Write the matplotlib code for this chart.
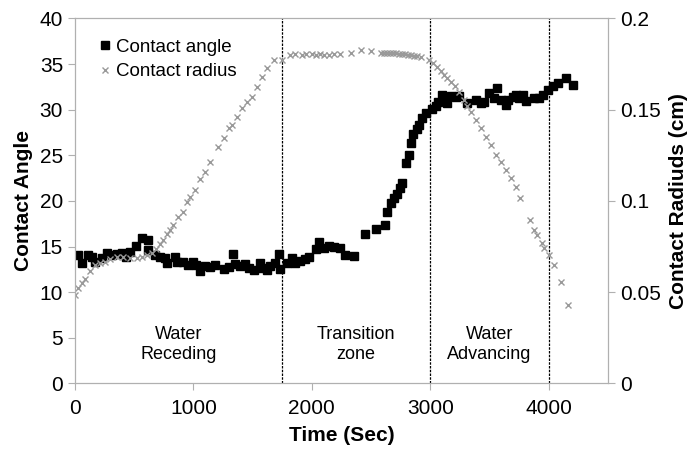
import matplotlib.pyplot as plt

plt.rcParams['font.family'] = ['Liberation Sans', 'DejaVu Sans']

# contact angle (deg) vs time (s)
angle_t = [28, 57, 113, 141, 169, 226, 273, 310, 353, 395, 431, 465, 514, 564, 620, 620,
           677, 719, 761, 776, 846, 860, 916, 959, 1001, 1024, 1058, 1100, 1142, 1184,
           1255, 1297, 1334, 1354, 1396, 1438, 1466, 1508, 1565, 1580, 1622, 1650, 1692,
           1720, 1734, 1791, 1833, 1861, 1904, 1946, 1974, 2039, 2058, 2101, 2143, 2191,
           2236, 2284, 2360, 2453, 2538, 2614, 2637, 2665, 2693, 2716, 2744, 2764, 2798,
           2820, 2834, 2857, 2885, 2908, 2933, 2961, 3018, 3046, 3065, 3102, 3145, 3179,
           3215, 3243, 3314, 3384, 3426, 3454, 3497, 3539, 3562, 3596, 3638, 3652, 3695,
           3723, 3750, 3779, 3807, 3877, 3920, 3948, 3991, 4033, 4080, 4146, 4202]
angle = [14.07, 13.17, 14.07, 13.86, 13.34, 13.71, 14.33, 14.07, 14.15, 14.26, 13.89, 14.44,
         15.06, 15.97, 15.72, 14.62, 14.07, 13.89, 13.71, 13.17, 13.89, 13.34, 13.34, 12.98,
         13.34, 12.98, 12.35, 12.87, 12.79, 12.98, 12.51, 12.73, 14.15, 13.09, 12.87, 13.06,
         12.62, 12.43, 13.17, 12.62, 12.43, 12.87, 13.17, 14.15, 12.51, 13.23, 13.71, 13.23,
         13.45, 13.60, 13.82, 14.70, 15.53, 14.81, 15.06, 14.92, 14.81, 14.07, 13.96, 16.37,
         16.92, 17.36, 18.82, 19.80, 20.28, 20.76, 21.45, 21.99, 24.12, 25.03, 26.37, 27.33,
         27.84, 28.31, 29.05, 29.66, 30.03, 30.39, 30.87, 31.57, 30.76, 31.49, 31.35, 31.49,
         30.76, 31.05, 30.76, 30.87, 31.79, 31.24, 32.33, 31.05, 30.50, 31.05, 31.41, 31.60,
         31.24, 31.60, 30.97, 31.24, 31.24, 31.60, 32.15, 32.58, 32.88, 33.43, 32.69]

# contact radius (cm) vs time (s)
radius_t = [0, 28, 57, 85, 127, 169, 212, 254, 296, 353, 409, 465, 522, 564, 607, 649, 685,
            719, 747, 781, 804, 832, 874, 916, 945, 973, 1015, 1058, 1100, 1142, 1212, 1255,
            1297, 1326, 1368, 1410, 1453, 1495, 1537, 1580, 1622, 1678, 1749, 1819, 1861,
            1918, 1954, 2003, 2039, 2073, 2107, 2143, 2185, 2242, 2327, 2417, 2496, 2580,
            2606, 2631, 2656, 2682, 2707, 2733, 2758, 2783, 2809, 2834, 2860, 2885, 2919,
            2989, 3020, 3060, 3088, 3116, 3145, 3173, 3206, 3243, 3285, 3314, 3342, 3384,
            3426, 3469, 3511, 3553, 3596, 3638, 3680, 3723, 3759, 3841, 3877, 3900, 3940,
            3962, 3999, 4041, 4103, 4165]
radius = [0.0485, 0.0521, 0.0549, 0.0571, 0.0616, 0.0649, 0.0658, 0.0667, 0.0680, 0.0691,
          0.0694, 0.0686, 0.0686, 0.0694, 0.0704, 0.0716, 0.0735, 0.0764, 0.0786, 0.0819,
          0.0841, 0.0868, 0.0910, 0.0941, 0.0996, 0.1023, 0.1060, 0.1118, 0.1160, 0.1215,
          0.1297, 0.1343, 0.1398, 0.1416, 0.1461, 0.1507, 0.1543, 0.1571, 0.1625, 0.1680,
          0.1726, 0.1772, 0.1772, 0.1799, 0.1805, 0.1799, 0.1805, 0.1805, 0.1799, 0.1805,
          0.1802, 0.1799, 0.1805, 0.1805, 0.1812, 0.1826, 0.1823, 0.1812, 0.1810, 0.1810,
          0.1810, 0.1808, 0.1808, 0.1807, 0.1807, 0.1805, 0.1802, 0.1799, 0.1795, 0.1794,
          0.1788, 0.1772, 0.1755, 0.1735, 0.1711, 0.1689, 0.1673, 0.1653, 0.1629, 0.1598,
          0.1553, 0.1520, 0.1488, 0.1443, 0.1398, 0.1352, 0.1306, 0.1251, 0.1215, 0.1169,
          0.1124, 0.1078, 0.1018, 0.0895, 0.0841, 0.0813, 0.0771, 0.0744, 0.0704, 0.0649,
          0.0557, 0.0430]

zone_edges = [1750, 3000, 4000]
zone_names = ['Water\nReceding', 'Transition\nzone', 'Water\nAdvancing']
zone_centers = [875, 2375, 3500]

fig = plt.figure(figsize=(6.87, 4.49), dpi=100)
ax = fig.add_axes([0.109, 0.146, 0.776, 0.813])
ax2 = ax.twinx()

ax.plot(angle_t, angle, 's', color='black', markersize=5.5, label='Contact angle')
ax2.plot(radius_t, radius, 'x', color='#999999', markersize=4, markeredgewidth=1,
         label='Contact radius')

for x in zone_edges:
    ax.axvline(x, color='black', linestyle=(0, (2, 1)), linewidth=0.9)
for x, name in zip(zone_centers, zone_names):
    ax.text(x, 4.3, name, ha='center', va='center', fontsize=13, linespacing=1.25)

ax.set_xlim(0, 4500)
ax.set_ylim(0, 40)
ax2.set_ylim(0, 0.2)
ax.set_xticks([0, 1000, 2000, 3000, 4000])
ax.set_yticks(range(0, 41, 5))
ax2.set_yticks([0, 0.05, 0.1, 0.15, 0.2])
ax2.set_yticklabels(['0', '0.05', '0.1', '0.15', '0.2'])

for a in (ax, ax2):
    for s in a.spines.values():
        s.set_color('#b0b0b0')
    a.tick_params(colors='#b0b0b0', labelcolor='black', labelsize=15, length=5)
ax.tick_params(axis='x', pad=6)

ax.set_xlabel('Time (Sec)', fontsize=15, fontweight='bold', labelpad=6)
ax.set_ylabel('Contact Angle', fontsize=15, fontweight='bold', labelpad=5)
ax2.set_ylabel('Contact Radiuds (cm)', fontsize=15, fontweight='bold', labelpad=6)

h1, l1 = ax.get_legend_handles_labels()
h2, l2 = ax2.get_legend_handles_labels()
ax.legend(h1 + h2, l1 + l2, loc='upper left', frameon=False, fontsize=13.5,
          handletextpad=0.1, handlelength=1.0, borderaxespad=0.0,
          bbox_to_anchor=(0.025, 0.965), labelspacing=0.4)

fig.savefig('out.png', dpi=100)
